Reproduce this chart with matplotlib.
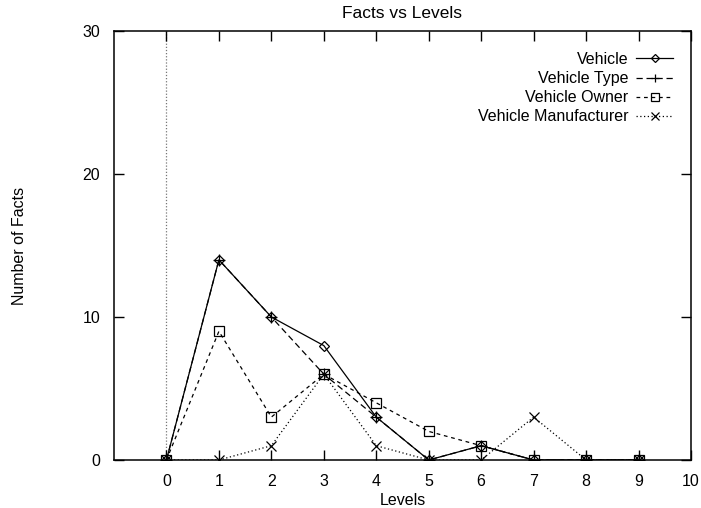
import numpy as np
import matplotlib.pyplot as plt

plt.rcParams['font.family'] = ['Liberation Sans', 'DejaVu Sans']
plt.rcParams['font.size'] = 11.5

### ------------------- Data -------------------
levels = [0, 1, 2, 3, 4, 5, 6, 7, 8, 9]
vehicle = [0, 14, 10, 8, 3, 0, 1, 0, 0, 0]
vehicle_type = [0, 14, 10, 6, 3, 0, 1, 0, 0, 0]
vehicle_owner = [0, 9, 3, 6, 4, 2, 1, 0, 0, 0]
vehicle_manufacturer = [0, 0, 1, 6, 1, 0, 0, 3, 0, 0]

names = ['Vehicle', 'Vehicle Type', 'Vehicle Owner', 'Vehicle Manufacturer']
series = [vehicle, vehicle_type, vehicle_owner, vehicle_manufacturer]

### ------------------- Plot -------------------
fig = plt.figure(figsize=(7.01, 5.08), dpi=100)
ax = fig.add_axes([114/701, 48/508, 577/701, 429/508])

styles = [
    dict(ls='-', marker='D', ms=5.5),
    dict(ls=(0, (5, 3)), marker='+', ms=8),
    dict(ls=(0, (3, 3)), marker='s', ms=7),
    dict(ls=(0, (1, 2)), marker='x', ms=7),
]
for name, y, st in zip(names, series, styles):
    ax.plot(levels, y, color='black', lw=0.9, mfc='none', mec='black',
            mew=0.9, label=name, **st)

# zero axis
ax.axvline(0, color='#777777', lw=0.9, ls=(0, (1, 1.5)), zorder=0)

ax.set_xlim(-1, 10)
ax.set_ylim(0, 30)
ax.set_xticks(range(0, 11))
ax.set_yticks([0, 10, 20, 30])
ax.tick_params(direction='in', length=7, width=1, top=True, right=True)
ax.tick_params(axis='x', pad=10)
ax.tick_params(axis='y', pad=10)
for s in ax.spines.values():
    s.set_linewidth(1.1)

ax.set_title('Facts vs Levels', fontsize=12.5, pad=9)
ax.set_xlabel('Levels', labelpad=3)
ax.set_ylabel('Number of Facts', labelpad=40)

ax.legend(loc='upper right', bbox_to_anchor=(673/701, (508-52)/508),
          bbox_transform=fig.transFigure, frameon=False, markerfirst=False,
          borderpad=0, borderaxespad=0, handlelength=2.3, handletextpad=0.5,
          labelspacing=0.26, markerscale=0.8)

plt.savefig('out.png', dpi=100)
